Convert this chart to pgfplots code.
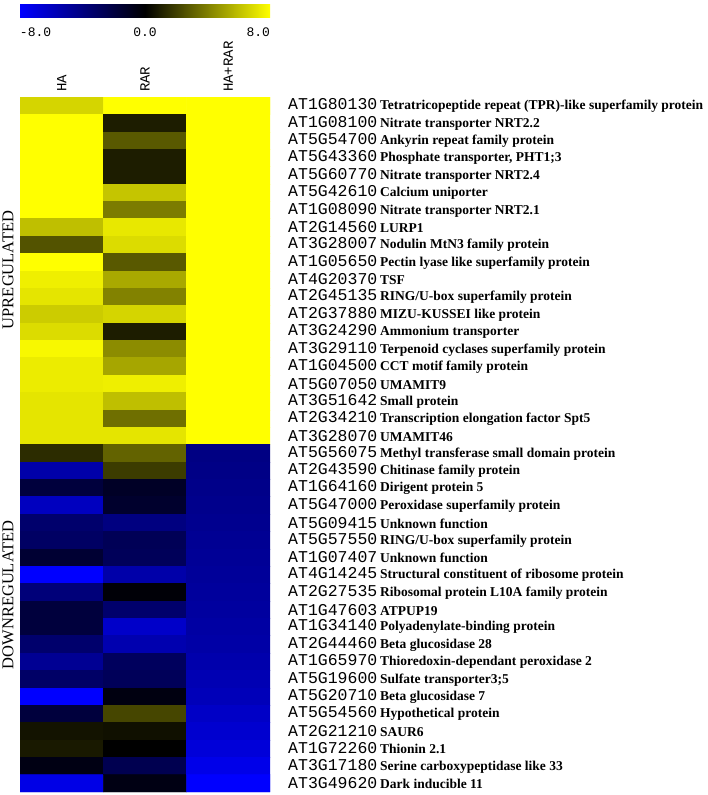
\documentclass[border=0pt]{standalone}
\usepackage{fontspec}
\setmainfont{Liberation Serif}
\newfontfamily\idfont{Liberation Mono}
\usepackage{pgfplots}
\pgfplotsset{compat=1.18}

% gene label: monospace id, bold serif description
\newcommand{\lab}[2]{\makebox[92pt][l]{\idfont\fontsize{16.5}{18}\selectfont #1}{\fontsize{13.5}{15}\selectfont\bfseries #2}}

\begin{document}
\begin{tikzpicture}
\useasboundingbox (0,0) rectangle (707pt,-795pt);
\begin{axis}[
  at={(20pt,-97pt)}, anchor=north west,
  scale only axis, width=250pt, height=695pt,
  xmin=-0.5, xmax=2.5, ymin=0.5, ymax=40.5,
  y dir=reverse,
  axis line style={draw=none},
  major tick length=0pt,
  colormap={bky}{rgb255=(0,0,255) rgb255=(0,0,0) rgb255=(255,255,0)},
  point meta min=-8, point meta max=8,
  xtick={0,1,2}, xticklabels={HA,RAR,HA+RAR},
  xticklabel pos=right,
  xticklabel style={rotate=90, anchor=west, inner xsep=5pt, inner ysep=0pt,
    font=\idfont\fontsize{14}{15}\selectfont},
  ytick={1,...,40},
  yticklabel pos=right,
  yticklabel style={anchor=west, inner sep=0pt, xshift=18pt},
  yticklabels={
    \lab{AT1G80130}{Tetratricopeptide repeat (TPR)-like superfamily protein},
    \lab{AT1G08100}{Nitrate transporter NRT2.2},
    \lab{AT5G54700}{Ankyrin repeat family protein},
    \lab{AT5G43360}{Phosphate transporter, PHT1;3},
    \lab{AT5G60770}{Nitrate transporter NRT2.4},
    \lab{AT5G42610}{Calcium uniporter},
    \lab{AT1G08090}{Nitrate transporter NRT2.1},
    \lab{AT2G14560}{LURP1},
    \lab{AT3G28007}{Nodulin MtN3 family protein},
    \lab{AT1G05650}{Pectin lyase like superfamily protein},
    \lab{AT4G20370}{TSF},
    \lab{AT2G45135}{RING/U-box superfamily protein},
    \lab{AT2G37880}{MIZU-KUSSEI like protein},
    \lab{AT3G24290}{Ammonium transporter},
    \lab{AT3G29110}{Terpenoid cyclases superfamily protein},
    \lab{AT1G04500}{CCT motif family protein},
    \lab{AT5G07050}{UMAMIT9},
    \lab{AT3G51642}{Small protein},
    \lab{AT2G34210}{Transcription elongation factor Spt5},
    \lab{AT3G28070}{UMAMIT46},
    \lab{AT5G56075}{Methyl transferase small domain protein},
    \lab{AT2G43590}{Chitinase family protein},
    \lab{AT1G64160}{Dirigent protein 5},
    \lab{AT5G47000}{Peroxidase superfamily protein},
    \lab{AT5G09415}{Unknown function},
    \lab{AT5G57550}{RING/U-box superfamily protein},
    \lab{AT1G07407}{Unknown function},
    \lab{AT4G14245}{Structural constituent of ribosome protein},
    \lab{AT2G27535}{Ribosomal protein L10A family protein},
    \lab{AT1G47603}{ATPUP19},
    \lab{AT1G34140}{Polyadenylate-binding protein},
    \lab{AT2G44460}{Beta glucosidase 28},
    \lab{AT1G65970}{Thioredoxin-dependant peroxidase 2},
    \lab{AT5G19600}{Sulfate transporter3;5},
    \lab{AT5G20710}{Beta glucosidase 7},
    \lab{AT5G54560}{Hypothetical protein},
    \lab{AT2G21210}{SAUR6},
    \lab{AT1G72260}{Thionin 2.1},
    \lab{AT3G17180}{Serine carboxypeptidase like 33},
    \lab{AT3G49620}{Dark inducible 11}},
  colorbar horizontal,
  colorbar style={
    at={(0,1.1151)}, anchor=south west,
    scale only axis, width=250pt, height=13pt,
    axis line style={draw=none},
    major tick length=0pt,
    xtick={-8,0,8},
    xticklabel={\ifcase\ticknum\makebox[0pt][l]{-8.0}\or 0.0\or\makebox[0pt][r]{8.0}\fi},
    xticklabel style={inner sep=0pt, yshift=-11pt, font=\idfont\fontsize{13}{14}\selectfont},
  },
]
\addplot[matrix plot*, mesh/cols=3, point meta=explicit] table[meta=c] {
x y c
0 1 6.7
1 1 8
2 1 8
0 2 8
1 2 0.9
2 2 8
0 3 8
1 3 2.8
2 3 8
0 4 8
1 4 0.9
2 4 8
0 5 8
1 5 0.9
2 5 8
0 6 8
1 6 6.2
2 6 8
0 7 8
1 7 3.9
2 7 8
0 8 6.0
1 8 7.3
2 8 8
0 9 2.6
1 9 6.9
2 9 8
0 10 8
1 10 2.8
2 10 8
0 11 7.5
1 11 5.3
2 11 8
0 12 7.2
1 12 4.1
2 12 8
0 13 6.4
1 13 6.7
2 13 8
0 14 6.9
1 14 0.9
2 14 8
0 15 7.8
1 15 4.4
2 15 8
0 16 7.4
1 16 5.2
2 16 8
0 17 7.4
1 17 7.5
2 17 8
0 18 7.2
1 18 6.0
2 18 8
0 19 7.2
1 19 3.5
2 19 8
0 20 7.2
1 20 7.2
2 20 8
0 21 1.4
1 21 3.1
2 21 -4.1
0 22 -5.3
1 22 1.9
2 22 -4.2
0 23 -1.9
1 23 -1.2
2 23 -4.3
0 24 -6.0
1 24 -1.4
2 24 -4.4
0 25 -3.4
1 25 -4.0
2 25 -4.5
0 26 -3.1
1 26 -2.7
2 26 -4.6
0 27 -1.6
1 27 -2.8
2 27 -4.7
0 28 -8.0
1 28 -5.3
2 28 -4.8
0 29 -3.8
1 29 -0.2
2 29 -4.9
0 30 -1.9
1 30 -3.4
2 30 -5.0
0 31 -1.9
1 31 -6.3
2 31 -5.1
0 32 -3.4
1 32 -5.5
2 32 -5.2
0 33 -4.6
1 33 -2.9
2 33 -5.4
0 34 -3.2
1 34 -2.8
2 34 -5.6
0 35 -8.0
1 35 -0.5
2 35 -5.8
0 36 -1.9
1 36 2.2
2 36 -6.2
0 37 0.6
1 37 0.5
2 37 -6.5
0 38 0.8
1 38 0.0
2 38 -6.8
0 39 -0.6
1 39 -2.5
2 39 -7.3
0 40 -7.2
1 40 -0.6
2 40 -8.0
};
\end{axis}
\node[rotate=90, font=\fontsize{16.5}{18}\selectfont] at (8pt,-270pt) {UPREGULATED};
\node[rotate=90, font=\fontsize{16.5}{18}\selectfont] at (8pt,-595pt) {DOWNREGULATED};
\end{tikzpicture}
\end{document}
